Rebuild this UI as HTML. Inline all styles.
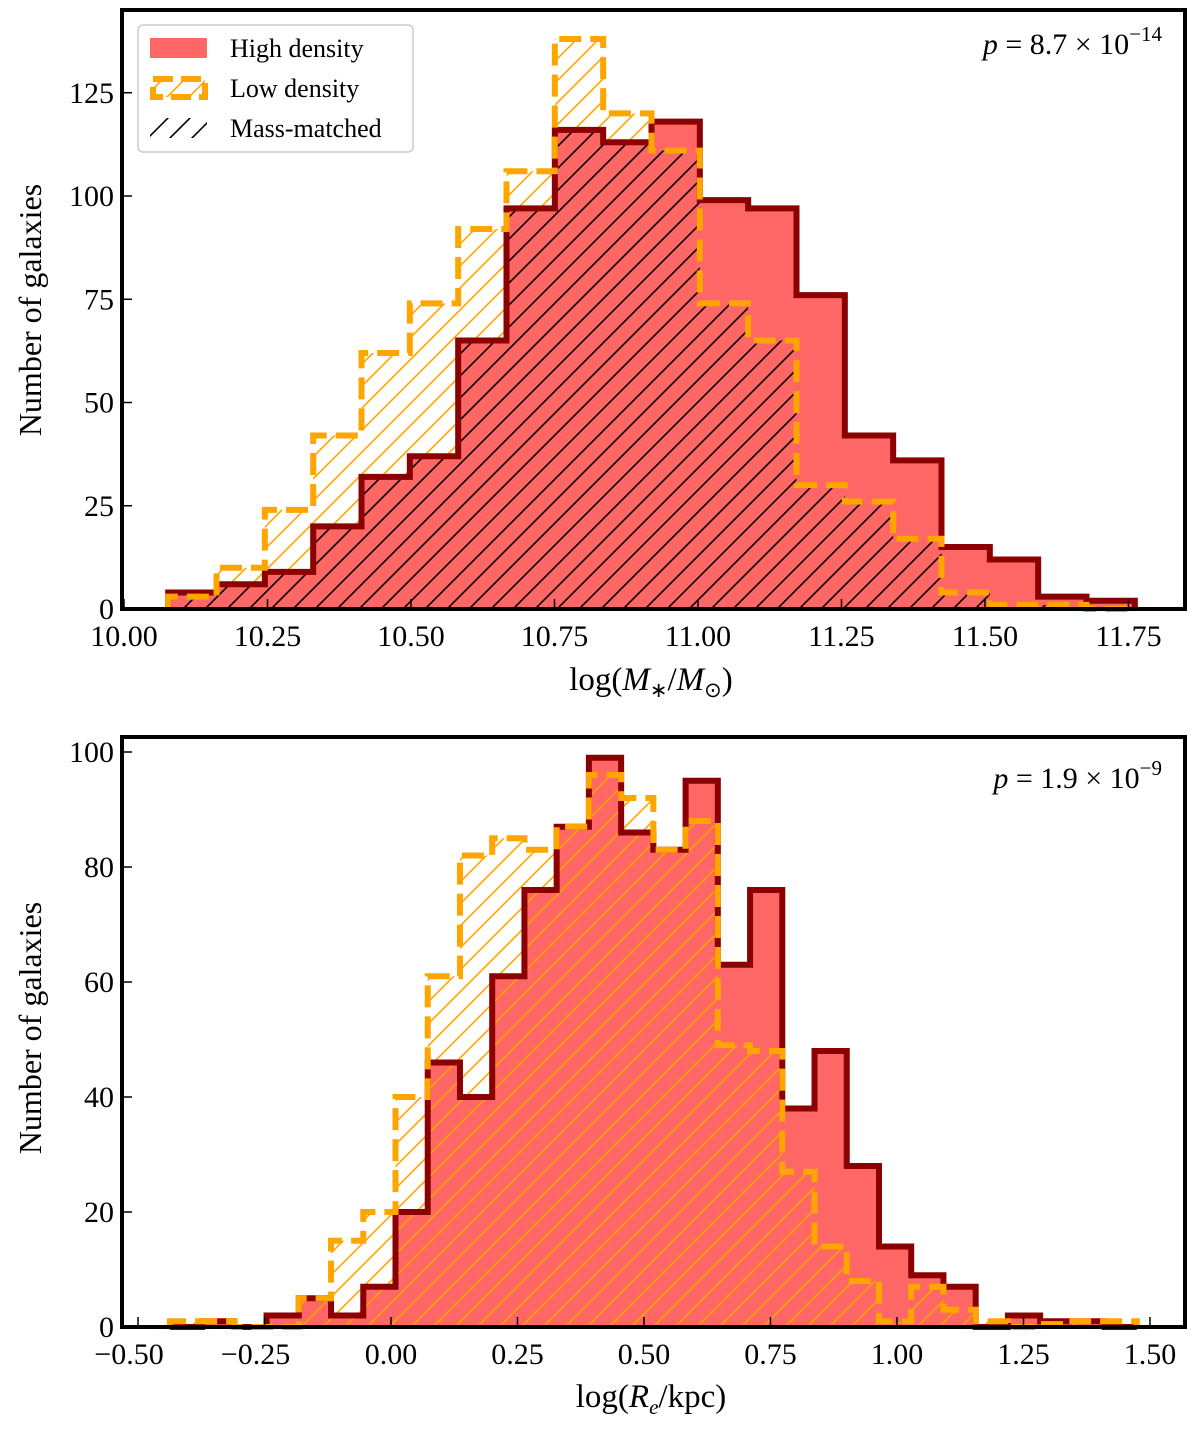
<!DOCTYPE html>
<html><head><meta charset="utf-8"><style>
body{margin:0;background:#fff}
svg text{font-family:"Liberation Serif",serif;fill:#000}
</style></head><body>
<svg id="chart" width="1200" height="1425" xmlns="http://www.w3.org/2000/svg">
<defs>
<pattern id="hatchO" patternUnits="userSpaceOnUse" width="22" height="22"><path d="M-2,24 L24,-2 M-13,13 L13,-13 M9,35 L35,9" stroke="#ffa500" stroke-width="1.6"/></pattern>
<pattern id="hatchK" patternUnits="userSpaceOnUse" width="22" height="22"><path d="M-2,24 L24,-2 M-13,13 L13,-13 M9,35 L35,9" stroke="#000" stroke-width="1.6"/></pattern>
</defs>
<g id="top"></g>
<g id="bot"></g>
</svg>
<script>
// Top panel data
const massStart = 10.077, massWidth = 0.0842;
const massHigh = [4,6,9,20,32,37,65,97,116,113,118,99,97,76,42,36,15,12,3,2];
const massLow = [3,10,24,42,62,74,92,106,138,120,111,74,65,30,26,17,4,1,1,0];
const massMatched = [3,6,9,20,32,37,65,97,116,113,111,74,65,30,26,17,4,1,1,0];
const massXTicks = [10.00,10.25,10.50,10.75,11.00,11.25,11.50,11.75];
const massYTicks = [0,25,50,75,100,125];
// Bottom panel data
const sizeStart = -0.437, sizeWidth = 0.0637;
const sizeHigh = [0,1,0,2,5,2,7,20,46,40,61,76,87,99,86,83,95,63,76,38,48,28,14,9,7,0,2,1,1,0];
const sizeLow = [1,1,0,0,5,15,20,40,61,82,85,83,87,96,92,83,88,49,48,27,14,8,1,7,3,1,0,0.5,1,1];
const sizeXTicks = [-0.50,-0.25,0.00,0.25,0.50,0.75,1.00,1.25,1.50];
const sizeYTicks = [0,20,40,60,80,100];

const NS = "http://www.w3.org/2000/svg";
function mk(parent, tag, attrs, text){
  const e = document.createElementNS(NS, tag);
  for (const k in attrs) e.setAttribute(k, attrs[k]);
  if (text !== undefined) e.textContent = text;
  parent.appendChild(e); return e;
}
function stepPath(vals, start, w, xs, ys, closed){
  let d = "M" + xs(start) + "," + ys(0);
  vals.forEach((v,i)=>{
    d += " L" + xs(start+i*w) + "," + ys(v) + " L" + xs(start+(i+1)*w) + "," + ys(v);
  });
  d += " L" + xs(start+vals.length*w) + "," + ys(0);
  if (closed) d += " Z";
  return d;
}
function fmtTick(v, dec){
  const s = Math.abs(v).toFixed(dec);
  return (v < 0 ? "\u2212" : "") + s;
}
function axes(g, box, xs, ys, xt, yt, ylabelY){
  xt.forEach(t=>{
    const x = xs(t);
    const tk = mk(g,"line",{x1:x,x2:x,y1:box.b,y2:box.b-10,stroke:"#000","stroke-width":1.5});
    
    
    const lb = mk(g,"text",{x:x - (t<0?9:0),y:box.b+37,"font-size":30,"text-anchor":"middle"}, fmtTick(t,2));
    
    
  });
  yt.forEach(t=>{
    const y = ys(t);
    const tk = mk(g,"line",{x1:box.l,x2:box.l+10,y1:y,y2:y,stroke:"#000","stroke-width":1.5});
    
    
    const lb = mk(g,"text",{x:box.l-8,y:y+10,"font-size":30,"text-anchor":"end"}, String(t));
    
    
  });
  const fr = mk(g,"rect",{x:box.l,y:box.t,width:box.r-box.l,height:box.b-box.t,fill:"none",stroke:"#000","stroke-width":4});
  
  
  const yl = mk(g,"text",{x:0,y:0,"font-size":32,"text-anchor":"middle",transform:"translate(41,"+ylabelY+") rotate(-90)"},"Number of galaxies");
  
  
}

// ---- Top panel
(function(){
  const g = document.getElementById("top");
  const box = {l:122,r:1185,t:10,b:609};
  const xs = v => 124 + (v-10)*574;
  const ys = v => 609 - v*4.13;
  const a = mk(g,"path",{d:stepPath(massLow,massStart,massWidth,xs,ys,true),fill:"url(#hatchO)",stroke:"none"});
  
  
  const b = mk(g,"path",{d:stepPath(massHigh,massStart,massWidth,xs,ys,true),fill:"#ff6666",stroke:"none"});
  
  
  const c = mk(g,"path",{d:stepPath(massMatched,massStart,massWidth,xs,ys,true),fill:"url(#hatchK)",stroke:"none"});
  
  
  const d = mk(g,"path",{d:stepPath(massHigh,massStart,massWidth,xs,ys,false),fill:"none",stroke:"#8b0000","stroke-width":6});
  
  
  const e = mk(g,"path",{d:stepPath(massLow,massStart,massWidth,xs,ys,false),fill:"none",stroke:"#ffa500","stroke-width":6,"stroke-dasharray":"22,9"});
  
  
  axes(g,box,xs,ys,massXTicks,massYTicks,310);
  const xl = mk(g,"text",{x:651,y:690,"font-size":33,"text-anchor":"middle"});
  xl.innerHTML = 'log(<tspan font-style="italic">M</tspan><tspan font-size="21" dy="7">∗</tspan><tspan dy="-7">/</tspan><tspan font-style="italic">M</tspan><tspan font-size="21" dy="7">⊙</tspan><tspan dy="-7">)</tspan>';
  
  
  const p = mk(g,"text",{x:1162,y:54,"font-size":30,"text-anchor":"end"});
  p.innerHTML = '<tspan font-style="italic">p</tspan> = 8.7 × 10<tspan font-size="21" dy="-13">−14</tspan>';
  
  
  // legend
  const lg = mk(g,"g",{});
  
  
  mk(lg,"rect",{x:138,y:25,width:275,height:127,rx:5,fill:"#fff","fill-opacity":0.85,stroke:"#ccc","stroke-width":1.5});
  const e1 = mk(lg,"rect",{x:150,y:38,width:57,height:20,fill:"#ff6666"});
  
  
  mk(lg,"text",{x:230,y:57,"font-size":26},"High density");
  const e2 = mk(lg,"rect",{x:153,y:79,width:52,height:18,fill:"url(#hatchO)",stroke:"#ffa500","stroke-width":6,"stroke-dasharray":"20,8"});
  
  
  mk(lg,"text",{x:230,y:97,"font-size":26},"Low density");
  const e3 = mk(lg,"rect",{x:150,y:118,width:57,height:20,fill:"url(#hatchK)"});
  
  
  mk(lg,"text",{x:230,y:137,"font-size":26},"Mass-matched");
})();

// ---- Bottom panel
(function(){
  const g = document.getElementById("bot");
  const box = {l:122,r:1185,t:737,b:1327};
  const xs = v => 391 + v*506;
  const ys = v => 1327 - v*5.75;
  const b = mk(g,"path",{d:stepPath(sizeHigh,sizeStart,sizeWidth,xs,ys,true),fill:"#ff6666",stroke:"none"});
  
  
  const a = mk(g,"path",{d:stepPath(sizeLow,sizeStart,sizeWidth,xs,ys,true),fill:"url(#hatchO)",stroke:"none"});
  
  
  const d = mk(g,"path",{d:stepPath(sizeHigh,sizeStart,sizeWidth,xs,ys,false),fill:"none",stroke:"#8b0000","stroke-width":6});
  
  
  const e = mk(g,"path",{d:stepPath(sizeLow,sizeStart,sizeWidth,xs,ys,false),fill:"none",stroke:"#ffa500","stroke-width":6,"stroke-dasharray":"22,9"});
  
  
  axes(g,box,xs,ys,sizeXTicks,sizeYTicks,1028);
  const xl = mk(g,"text",{x:651,y:1407,"font-size":33,"text-anchor":"middle"});
  xl.innerHTML = 'log(<tspan font-style="italic">R</tspan><tspan font-size="21" font-style="italic" dy="7">e</tspan><tspan dy="-7">/kpc)</tspan>';
  
  
  const p = mk(g,"text",{x:1162,y:788,"font-size":30,"text-anchor":"end"});
  p.innerHTML = '<tspan font-style="italic">p</tspan> = 1.9 × 10<tspan font-size="21" dy="-13">−9</tspan>';
  
  
})();
</script>
</body></html>
